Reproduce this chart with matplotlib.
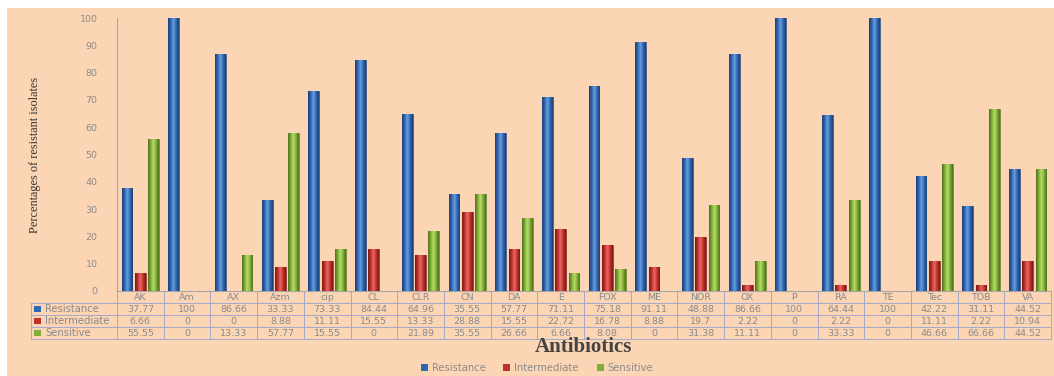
import numpy as np
import matplotlib.pyplot as plt
from matplotlib.patches import Rectangle
from matplotlib.colors import LinearSegmentedColormap
from matplotlib.transforms import blended_transform_factory

antibiotics = ['AK', 'Am', 'AX', 'Azm', 'cip', 'CL', 'CLR', 'CN', 'DA', 'E',
               'FOX', 'ME', 'NOR', 'OX', 'P', 'RA', 'TE', 'Tec', 'TOB', 'VA']
resistance = [37.77, 100, 86.66, 33.33, 73.33, 84.44, 64.96, 35.55, 57.77, 71.11,
              75.18, 91.11, 48.88, 86.66, 100, 64.44, 100, 42.22, 31.11, 44.52]
intermediate = [6.66, 0, 0, 8.88, 11.11, 15.55, 13.33, 28.88, 15.55, 22.72,
                16.78, 8.88, 19.7, 2.22, 0, 2.22, 0, 11.11, 2.22, 10.94]
sensitive = [55.55, 0, 13.33, 57.77, 15.55, 0, 21.89, 35.55, 26.66, 6.66,
             8.08, 0, 31.38, 11.11, 0, 33.33, 0, 46.66, 66.66, 44.52]
series_names = ['Resistance', 'Intermediate', 'Sensitive']

peach = '#fcd5b5'
colors = ['#2e67b1', '#c0302c', '#7fae36']
darks = ['#1c3f75', '#7a1a18', '#4d6e1c']
lights = ['#6d9ee0', '#e86a64', '#b8dd6e']
grey_txt = '#8a8a8a'
grid_col = '#a3a9cc'

fig = plt.figure(figsize=(10.54, 3.76), dpi=100, facecolor='white')
fig.patches.append(Rectangle((7 / 1054, 0), 1, 1 - 8 / 376, transform=fig.transFigure,
                             facecolor=peach, edgecolor='none', zorder=-10))
ax = fig.add_axes([117 / 1054, 1 - 291 / 376, 934 / 1054, 273 / 376])
ax.set_facecolor('none')

x = np.arange(len(antibiotics))
step, width = 0.285, 0.23
all_series = [resistance, intermediate, sensitive]
for k, vals in enumerate(all_series):
    bars = ax.bar(x + (k - 1) * step, vals, width, color=colors[k],
                  edgecolor=darks[k], linewidth=0.4, zorder=2)
    # horizontal shading so the bars read as cylinders
    cmap = LinearSegmentedColormap.from_list('cyl%d' % k,
                                             [darks[k], colors[k], lights[k], colors[k], darks[k]])
    grad = np.linspace(0, 1, 64).reshape(1, -1)
    for b in bars:
        if b.get_height() <= 0:
            continue
        bx, bw, bh = b.get_x(), b.get_width(), b.get_height()
        im = ax.imshow(grad, extent=[bx, bx + bw, 0, bh], aspect='auto', cmap=cmap,
                       zorder=3, interpolation='bilinear')
        im.set_clip_path(b)

ax.set_xlim(-0.5, len(antibiotics) - 0.5)
ax.set_ylim(0, 100)
ax.set_yticks(range(0, 101, 10))
ax.tick_params(axis='y', length=0, labelsize=6.8, labelcolor=grey_txt, pad=14)
ax.set_xticks([])
for s in ['top', 'right']:
    ax.spines[s].set_visible(False)
ax.spines['left'].set_color('#a6a6a6')
ax.spines['bottom'].set_color('#a6a6a6')

# data table below the plot
tr = blended_transform_factory(ax.transData, ax.transAxes)
h = 12 / 273
x_left = -0.5 - 86 / 46.7
x_right = len(antibiotics) - 0.5
line_kw = dict(transform=tr, color=grid_col, lw=0.7, clip_on=False)
for i in range(len(antibiotics) + 1):
    ax.plot([i - 0.5, i - 0.5], [0, -4 * h], **line_kw)
ax.plot([x_left, x_left], [-h, -4 * h], **line_kw)
for r in range(1, 5):
    ax.plot([x_left, x_right], [-r * h, -r * h], **line_kw)

txt_kw = dict(transform=tr, ha='center', va='center', fontsize=6.8, color=grey_txt, clip_on=False)
for i, name in enumerate(antibiotics):
    ax.text(i, -0.5 * h, name, **txt_kw)
    for r, vals in enumerate(all_series):
        ax.text(i, -(r + 1.5) * h, '%g' % vals[i], **txt_kw)

for r, name in enumerate(series_names):
    yc = -(r + 1.5) * h
    ax.add_patch(Rectangle((x_left + 0.07, yc - 0.011), 0.14, 0.022, transform=tr,
                           facecolor=colors[r], edgecolor='none', clip_on=False))
    ax.text(x_left + 0.3, yc, name, transform=tr, ha='left', va='center',
            fontsize=7.2, color=grey_txt, clip_on=False)

fig.text(0.033, 1 - 155 / 376, 'Percentages of resistant isolates', rotation=90,
         ha='center', va='center', family='Liberation Serif', fontsize=8.8, color='#333333')
fig.text(583 / 1054, 1 - 347 / 376, 'Antibiotics', ha='center', va='center',
         family='Liberation Serif', fontweight='bold', fontsize=15, color='#444444')

handles = [Rectangle((0, 0), 1, 1, facecolor=c) for c in colors]
leg = fig.legend(handles, series_names, loc='center', bbox_to_anchor=(537 / 1054, 1 - 368 / 376),
                 ncol=3, frameon=False, fontsize=7.2, handlelength=0.7, handleheight=0.7,
                 handletextpad=0.4, columnspacing=1.8)
for t in leg.get_texts():
    t.set_color(grey_txt)

fig.savefig('out.png', dpi=100, facecolor=fig.get_facecolor())
